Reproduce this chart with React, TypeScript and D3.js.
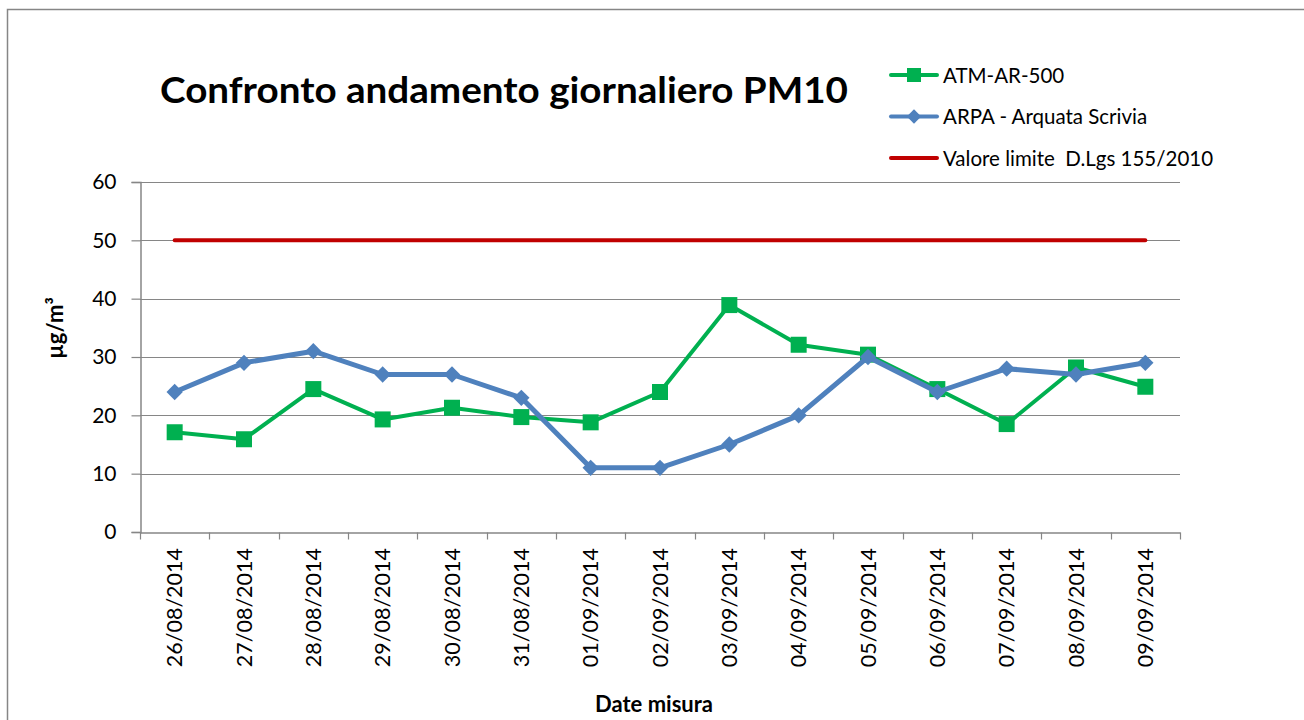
import * as d3 from "d3";
import { useEffect, useRef } from "react";

// dati
const dates = [
  "26/08/2014", "27/08/2014", "28/08/2014", "29/08/2014", "30/08/2014",
  "31/08/2014", "01/09/2014", "02/09/2014", "03/09/2014", "04/09/2014",
  "05/09/2014", "06/09/2014", "07/09/2014", "08/09/2014", "09/09/2014",
];
const atmValues = [17.1, 15.9, 24.5, 19.3, 21.3, 19.7, 18.8, 24, 38.9, 32.1, 30.4, 24.5, 18.5, 28.2, 24.9];
const arpaValues = [24, 29, 31, 27, 27, 23, 11, 11, 15, 20, 30, 24, 28, 27, 29];
const limitValues = dates.map(() => 50);
const yTicks = [0, 10, 20, 30, 40, 50, 60];

const GREEN = "#00B050";
const BLUE = "#4F81BD";
const RED = "#C00000";
const GRID = "#868686";
const FONT = "Lato, 'Open Sans', sans-serif";

const App = () => {
  const ref = useRef<SVGSVGElement>(null);

  useEffect(() => {
    const svg = d3.select(ref.current);
    svg.selectAll("*").remove();

    const left = 140, right = 1180, top = 182, bottom = 532;

    const x = d3.scaleBand().domain(dates).range([left, right]);
    const y = d3.scaleLinear().domain([0, 60]).range([bottom, top]);
    const cx = (d: string) => (x(d) as number) + x.bandwidth() / 2;

    // cornice esterna
    svg.append("rect")
      .attr("x", 7.5).attr("y", 9.5)
      .attr("width", 1310).attr("height", 720)
      .attr("fill", "white").attr("stroke", GRID).attr("stroke-width", 1.5);

    // titolo
    svg.append("text")
      .attr("x", 160).attr("y", 103)
      .attr("font-family", FONT).attr("font-weight", "bold")
      .attr("font-size", 36).attr("textLength", 688)
      .attr("lengthAdjust", "spacingAndGlyphs")
      .attr("fill", "black")
      .text("Confronto andamento giornaliero PM10");

    // griglia
    svg.append("g").selectAll("line")
      .data(yTicks.filter((t) => t > 0))
      .join("line")
      .attr("x1", left).attr("x2", right)
      .attr("y1", (d) => Math.round(y(d)) + 0.5).attr("y2", (d) => Math.round(y(d)) + 0.5)
      .attr("stroke", GRID).attr("stroke-width", 1.2);

    // asse y
    const yAxis = svg.append("g")
      .attr("transform", `translate(${left + 0.5},0)`)
      .call(d3.axisLeft(y).tickValues(yTicks).tickSize(9).tickPadding(15));
    yAxis.select(".domain").attr("stroke", GRID).attr("stroke-width", 1.5);
    yAxis.selectAll(".tick line").attr("stroke", GRID).attr("stroke-width", 1.2);
    yAxis.selectAll(".tick text")
      .attr("font-family", FONT).attr("font-size", 21).attr("fill", "black");

    // asse x
    const xAxis = svg.append("g")
      .attr("transform", `translate(0,${bottom + 0.5})`)
      .call(d3.axisBottom(x).tickSize(0).tickFormat(() => ""));
    xAxis.select(".domain").attr("stroke", GRID).attr("stroke-width", 1.5);
    xAxis.selectAll(".tick").remove();
    xAxis.selectAll("line.sep")
      .data([...dates.map((d) => x(d) as number), right])
      .join("line")
      .attr("class", "sep")
      .attr("x1", (d) => Math.round(d) + 0.5).attr("x2", (d) => Math.round(d) + 0.5)
      .attr("y1", 0).attr("y2", 7)
      .attr("stroke", GRID).attr("stroke-width", 1.2);

    svg.append("g").selectAll("text")
      .data(dates)
      .join("text")
      .attr("transform", (d) => `translate(${cx(d) + 7.5},548) rotate(-90)`)
      .attr("text-anchor", "end")
      .attr("font-family", FONT).attr("font-size", 21.5).attr("fill", "black")
      .text((d) => d);

    // titoli assi
    svg.append("text")
      .attr("x", 654).attr("y", 712)
      .attr("text-anchor", "middle")
      .attr("font-family", FONT).attr("font-weight", "bold").attr("font-size", 22)
      .text("Date misura");
    svg.append("text")
      .attr("transform", "translate(63,328) rotate(-90)")
      .attr("text-anchor", "middle")
      .attr("font-family", FONT).attr("font-weight", "bold").attr("font-size", 22)
      .text("µg/m³");

    const line = d3.line<number>()
      .x((_, i) => cx(dates[i]))
      .y((d) => y(d));

    // limite
    svg.append("path")
      .datum(limitValues)
      .attr("d", line)
      .attr("fill", "none").attr("stroke", RED).attr("stroke-width", 4)
      .attr("stroke-linecap", "round");

    // ATM-AR-500
    svg.append("path")
      .datum(atmValues)
      .attr("d", line)
      .attr("fill", "none").attr("stroke", GREEN).attr("stroke-width", 4)
      .attr("stroke-linejoin", "round");
    svg.append("g").selectAll("rect")
      .data(atmValues)
      .join("rect")
      .attr("x", (_, i) => cx(dates[i]) - 8)
      .attr("y", (d) => y(d) - 8)
      .attr("width", 16).attr("height", 16)
      .attr("fill", GREEN);

    // ARPA
    svg.append("path")
      .datum(arpaValues)
      .attr("d", line)
      .attr("fill", "none").attr("stroke", BLUE).attr("stroke-width", 5)
      .attr("stroke-linejoin", "round");
    const diamond = d3.symbol().type(d3.symbolDiamond2).size(170);
    svg.append("g").selectAll("path")
      .data(arpaValues)
      .join("path")
      .attr("transform", (d, i) => `translate(${cx(dates[i])},${y(d)})`)
      .attr("d", diamond)
      .attr("fill", BLUE);

    // legenda
    const legend = [
      { name: "ATM-AR-500", color: GREEN, marker: "square" },
      { name: "ARPA - Arquata Scrivia", color: BLUE, marker: "diamond" },
      { name: "Valore limite  D.Lgs 155/2010", color: RED, marker: "none" },
    ];
    const lg = svg.append("g");
    legend.forEach((l, i) => {
      const ly = 75 + i * 41.5;
      const g = lg.append("g").attr("transform", `translate(0,${ly})`);
      g.append("line")
        .attr("x1", 891).attr("x2", 937).attr("y1", 0).attr("y2", 0)
        .attr("stroke", l.color).attr("stroke-width", 4).attr("stroke-linecap", "round");
      if (l.marker === "square") {
        g.append("rect").attr("x", 907).attr("y", -7).attr("width", 14).attr("height", 14).attr("fill", l.color);
      } else if (l.marker === "diamond") {
        g.append("path")
          .attr("transform", "translate(914,0)")
          .attr("d", d3.symbol().type(d3.symbolDiamond2).size(130))
          .attr("fill", l.color);
      }
      g.append("text")
        .attr("x", 943).attr("y", 7.5)
        .attr("font-family", FONT).attr("font-size", 20.5).attr("fill", "black")
        .style("white-space", "pre")
        .text(l.name);
    });
  }, []);

  return <svg ref={ref} width={1304} height={720} style={{ position: "absolute", left: 0, top: 0 }} />;
};

export default App;
